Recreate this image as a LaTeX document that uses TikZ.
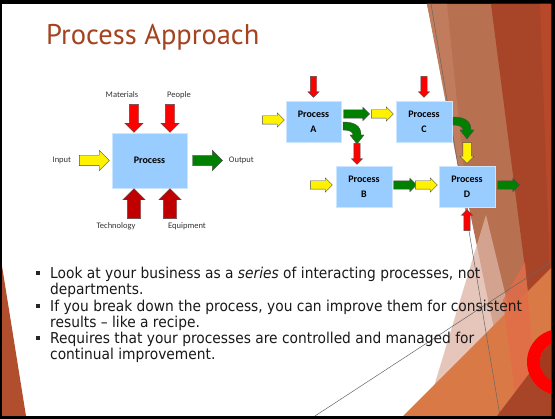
\documentclass[tikz,border=0pt]{standalone}
\usepackage{fontspec}
\setmainfont{DejaVu Sans}
\newfontfamily\titlefont{PT Sans}
\newfontfamily\diagfont{Carlito}
\newfontfamily\bodyfont[FakeStretch=0.92]{DejaVu Sans}
\usetikzlibrary{shapes.arrows,positioning}
\definecolor{rust}{RGB}{165,66,32}
\definecolor{slidetan}{RGB}{184,113,80}
\definecolor{slidelight}{RGB}{192,124,92}
\definecolor{slidedark}{RGB}{168,68,40}
\definecolor{slidestrip}{RGB}{184,72,42}
\definecolor{slidepink}{RGB}{222,180,165}
\definecolor{slideorange}{RGB}{217,122,70}
\definecolor{slidered}{RGB}{226,108,72}
\definecolor{slidebrown}{RGB}{176,78,46}
\definecolor{ringcore}{RGB}{163,58,30}
\definecolor{boxblue}{RGB}{153,204,255}
\definecolor{boxedge}{RGB}{205,230,255}
\definecolor{arrgreen}{RGB}{0,128,0}
\definecolor{darkred}{RGB}{192,0,0}

\tikzset{
  blk/.style={single arrow, draw=black!70, line width=.4pt, inner xsep=0pt},
  yelarr/.style={blk, fill=yellow, inner ysep=4pt, single arrow head extend=3pt, minimum height=22pt},
  grnarr/.style={blk, fill=arrgreen, inner ysep=4pt, single arrow head extend=2.5pt, minimum height=26pt},
  redarr/.style={blk, fill=red, inner ysep=3pt, single arrow head extend=2.5pt, minimum height=21pt},
  yelbig/.style={blk, fill=yellow, inner ysep=5pt, single arrow head extend=5pt, minimum height=30pt},
  grnbig/.style={blk, fill=arrgreen, inner ysep=5pt, single arrow head extend=5pt, minimum height=30pt},
  redtop/.style={blk, fill=red, inner ysep=4.5pt, single arrow head extend=4.5pt, minimum height=28pt, rotate=-90},
  redbot/.style={blk, fill=darkred, inner ysep=6.5pt, single arrow head extend=4.5pt, minimum height=30pt, rotate=90},
  procbox/.style={fill=boxblue, draw=boxedge, line width=.6pt, inner sep=0pt, align=center,
    font=\diagfont\bfseries\fontsize{10}{15}\selectfont},
  lbl/.style={inner sep=0pt, text=black!80, font=\diagfont\fontsize{8.5}{10}\selectfont},
  bodytxt/.style={anchor=base west, inner sep=0pt, text=black!90, font=\bodyfont\fontsize{15}{16}\selectfont},
  blt/.style={fill=black!85, minimum size=4pt, inner sep=0pt},
  thinline/.style={draw=black!60, line width=.5pt}
}

% green arrow that bends down
\newcommand\bendarrow[2]{%
  \draw[draw=black!70, line width=.4pt, fill=arrgreen, shift={(#1,#2)}]
    (0,0) .. controls (12,0) and (18,4) .. (18,13) -- (21,13) -- (14,22) -- (7,13) -- (10,13)
    .. controls (10,10) and (7,8) .. (0,8) -- cycle;}

\begin{document}
\begin{tikzpicture}[x=1pt,y=-1pt]
% slide frame
\fill[black] (0,0) rectangle (555,419);
\fill[white] (2,4) rectangle (551,416);

% facets
\begin{scope}
  \clip (2,4) rectangle (551,416);
  \fill[slidetan] (427,4) -- (551,4) -- (551,416) -- (512,416) -- cycle;
  \fill[slidelight] (427,4) -- (447,4) -- (470,230) -- cycle;
  \fill[slidedark] (491,4) -- (551,4) -- (551,416) -- (544,416) -- cycle;
  \fill[slidestrip] (540,4) -- (551,4) -- (551,300) -- cycle;
  \fill[slidepink, opacity=.75] (425,416) -- (486,215) -- (535,416) -- cycle;
  \fill[slideorange] (403,416) -- (551,268) -- (551,416) -- cycle;
  \fill[slidered, opacity=.8] (503,300) -- (525,262) -- (538,416) -- (518,416) -- cycle;
  \fill[slidedark] (497,416) -- (551,345) -- (551,416) -- cycle;
  \fill[slidebrown] (2,266) -- (26,416) -- (2,416) -- cycle;
  \fill[red, even odd rule] (560,362) circle (33pt) (560,362) circle (20pt);
  \fill[ringcore] (560,362) circle (20pt);
  \draw[thinline] (431,4) -- (500,416);
  \draw[thinline] (315,416) -- (551,262);
\end{scope}

% title
\node[anchor=base west, inner sep=0pt, text=rust, font=\titlefont\fontsize{28.5}{30}\selectfont] (title) at (46,45) {Process Approach};

% single process
\node[procbox, minimum width=75pt, minimum height=55pt] (proc) at (149.5,160.5) {Process};
\node[yelbig, anchor=tip] (inarr) at ([xshift=-2pt]proc.west) {};
\node[grnbig, anchor=tail] (outarr) at ([xshift=5pt]proc.east) {};
\node[redtop, anchor=tip] (matarr) at ([xshift=-15.5pt]proc.north) {};
\node[redtop, anchor=tip] (peoarr) at ([xshift=20.5pt]proc.north) {};
\node[redbot, anchor=tip] (tecarr) at ([xshift=-15.5pt]proc.south) {};
\node[redbot, anchor=tip] (equarr) at ([xshift=20.5pt]proc.south) {};
\node[lbl, left=8pt of inarr.tail] (inlbl) {Input};
\node[lbl, right=6pt of outarr.tip] (outlbl) {Output};
\node[lbl] (matlbl) at (122,95) {Materials};
\node[lbl] (peolbl) at (179,95) {People};
\node[lbl] (teclbl) at (116,226) {Technology};
\node[lbl] (equlbl) at (187,226) {Equipment};

% chain of processes
\node[procbox, minimum width=55pt, minimum height=41pt] (pa) at (313.5,121.5) {Process\\A};
\node[procbox, minimum width=56pt, minimum height=41pt] (pc) at (424,121.5) {Process\\C};
\node[procbox, minimum width=56pt, minimum height=41pt] (pb) at (364,186.5) {Process\\B};
\node[procbox, minimum width=56pt, minimum height=41pt] (pd) at (467,186.5) {Process\\D};

\node[redarr, rotate=-90, anchor=tip] (ra) at ([yshift=3pt]pa.north) {};
\node[redarr, rotate=-90, anchor=tip] (rc) at ([yshift=3pt]pc.north) {};
\node[redarr, rotate=-90, anchor=tip] (rb) at ([xshift=-7pt,yshift=1pt]pb.north) {};
\node[redarr, rotate=90, anchor=tip] (rd) at ([yshift=-2pt]pd.south) {};
\node[yelarr, anchor=tip] (ya) at ([xshift=-1pt,yshift=1.5pt]pa.west) {};
\node[grnarr, anchor=tail] (gac) at ([xshift=2pt,yshift=7.5pt]pa.east) {};
\node[yelarr, anchor=tip] (yc) at ([xshift=-2pt,yshift=7.5pt]pc.west) {};
\node[yelarr, anchor=tip] (yb) at ([xshift=-3pt,yshift=1.5pt]pb.west) {};
\node[grnarr, anchor=tail, minimum height=23pt] (gbd) at ([xshift=1pt,yshift=1.5pt]pb.east) {};
\node[yelarr, anchor=tip] (yd) at ([xshift=-1pt,yshift=1.5pt]pd.west) {};
\node[grnarr, anchor=tail, minimum height=22pt] (gd) at ([xshift=2pt,yshift=1.5pt]pd.east) {};
\node[yelarr, rotate=-90, anchor=tip, minimum height=21pt] (ycd) at ([yshift=2pt]pd.north) {};
\bendarrow{343}{122}
\bendarrow{453}{117}

% bullets
\node[blt] (d1) at (37.5,273) {};
\node[blt] (d2) at (37.5,306) {};
\node[blt] (d3) at (37.5,338) {};
\node[bodytxt] (l1) at (50,279) {Look at your business as a \textit{series} of interacting processes, not};
\node[bodytxt] (l2) at (50,295) {departments.};
\node[bodytxt] (l3) at (50,312) {If you break down the process, you can improve them for consistent};
\node[bodytxt] (l4) at (50,328) {results – like a recipe.};
\node[bodytxt] (l5) at (50,344) {Requires that your processes are controlled and managed for};
\node[bodytxt] (l6) at (50,360) {continual improvement.};
\end{tikzpicture}
\end{document}
